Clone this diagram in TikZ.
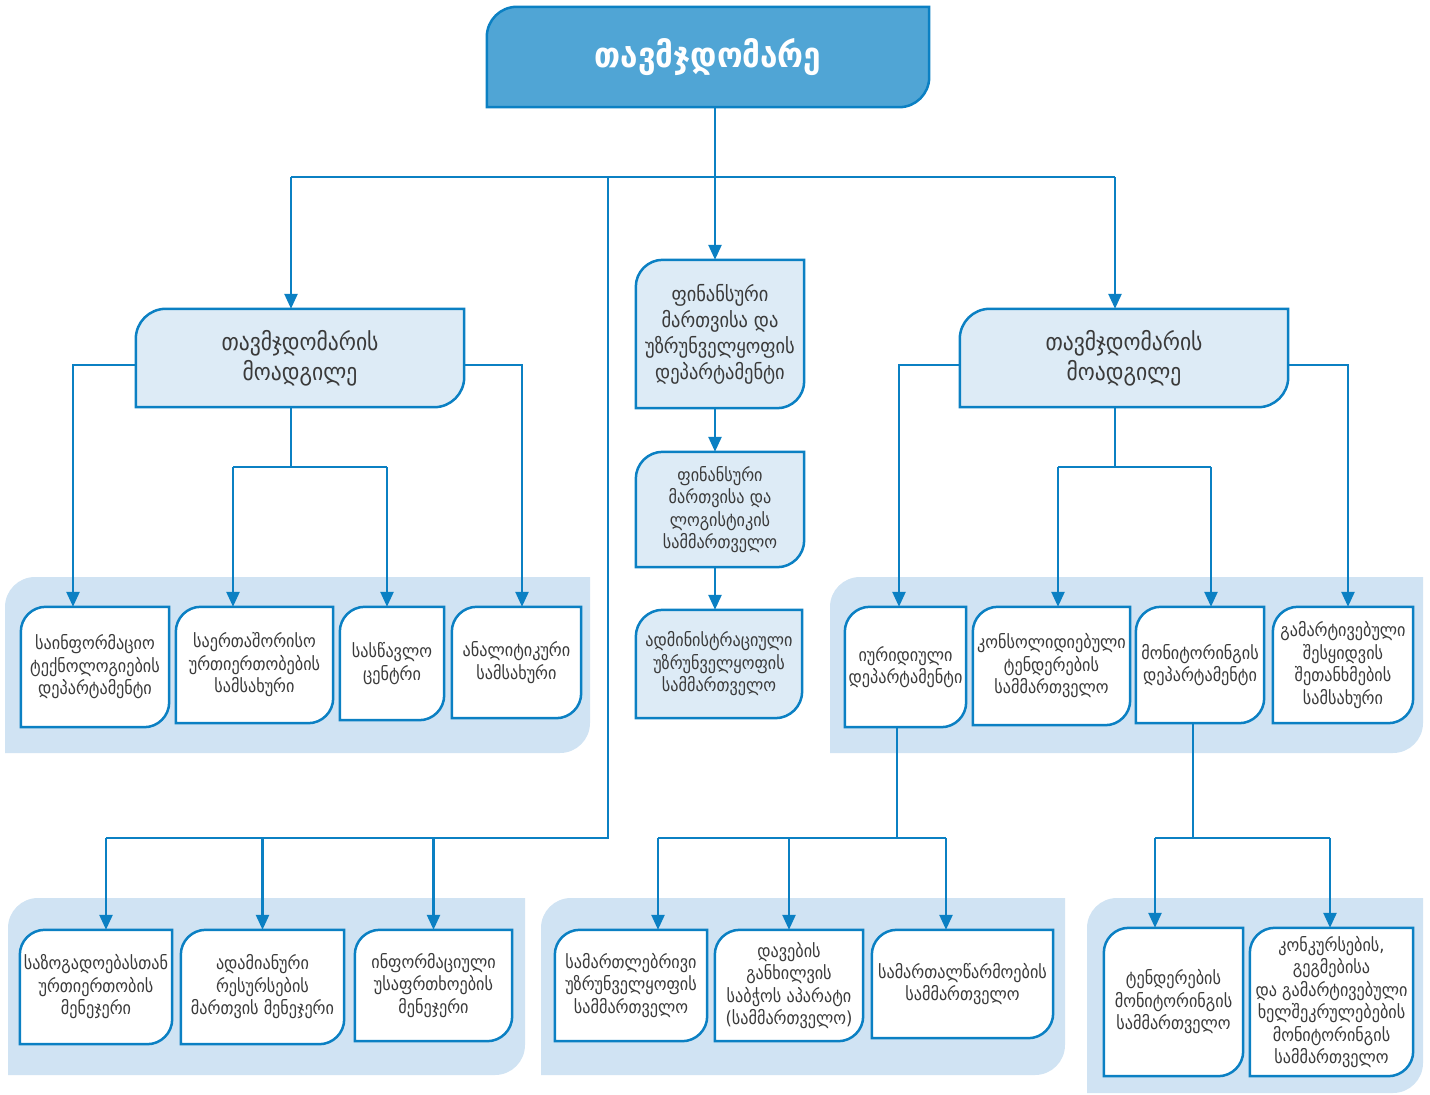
\documentclass[tikz,border=0pt]{standalone}
\usepackage{fontspec}
\newfontfamily\geo{DejaVu Sans Condensed}
\usetikzlibrary{arrows.meta,backgrounds,calc}
\definecolor{bl}{HTML}{0B80C3}
\definecolor{topfill}{HTML}{50A5D5}
\definecolor{lightfill}{HTML}{DDEBF6}
\definecolor{panelc}{HTML}{D0E3F3}
\definecolor{txtc}{HTML}{3A3A3A}
\tikzset{
  txt/.style={inner sep=0pt, align=center, font=\geo\fontsize{18}{22.5}\selectfont, text=txtc},
  bigtxt/.style={txt, font=\geo\fontsize{20.5}{26}\selectfont},
  deptxt/.style={inner sep=0pt, align=center, font=\geo\fontsize{24}{30}\selectfont, text=txtc},
  toptxt/.style={inner sep=0pt, align=center, font=\geo\bfseries\fontsize{35}{40}\selectfont, text=white},
  ln/.style={draw=bl, line width=2.5pt},
  arr/.style={ln, -{Triangle[length=15pt,width=13pt]}},
  bshape/.style={draw=bl, line width=2.5pt},
}
\newcommand{\ogshape}[3]{%
  \draw[bshape, fill=#3] (#1.south west) -- ([yshift=-#2]#1.north west)
    arc[start angle=180,end angle=90,radius=#2] -- (#1.north east)
    -- ([yshift=#2]#1.south east) arc[start angle=0,end angle=-90,radius=#2] -- cycle;}
\newcommand{\ogpanel}[5]{%
  \fill[panelc] (#1,#4) -- (#1,{#2+#5}) arc[start angle=180,end angle=90,radius=#5 pt]
    -- (#3,#2) -- (#3,{#4-#5}) arc[start angle=0,end angle=-90,radius=#5 pt] -- cycle;}
\begin{document}
\begin{tikzpicture}[x=1pt,y=-1pt]
\useasboundingbox (0,0) rectangle (1430,1095);
% nodes
\node[toptxt, minimum width=442pt, minimum height=100pt] (T) at (708,57) {თავმჯდომარე};
\node[deptxt, minimum width=328pt, minimum height=98pt] (D1) at (300,358) {თავმჯდომარის\\მოადგილე};
\node[deptxt, minimum width=328pt, minimum height=98pt] (D2) at (1124,358) {თავმჯდომარის\\მოადგილე};
\node[bigtxt, minimum width=168pt, minimum height=148pt] (M1) at (720,334) {ფინანსური\\მართვისა და\\უზრუნველყოფის\\დეპარტამენტი};
\node[txt, minimum width=168pt, minimum height=115pt] (M2) at (720,509.5) {ფინანსური\\მართვისა და\\ლოგისტიკის\\სამმართველო};
\node[txt, minimum width=166pt, minimum height=108pt] (M3) at (719,664) {ადმინისტრაციული\\უზრუნველყოფის\\სამმართველო};
% left group
\node[txt, minimum width=148pt, minimum height=120pt] (A1) at (95,667) {საინფორმაციო\\ტექნოლოგიების\\დეპარტამენტი};
\node[txt, minimum width=157pt, minimum height=116pt] (A2) at (254.5,665) {საერთაშორისო\\ურთიერთობების\\სამსახური};
\node[txt, minimum width=104pt, minimum height=113pt] (A3) at (392,663.5) {სასწავლო\\ცენტრი};
\node[txt, minimum width=129pt, minimum height=111pt] (A4) at (516.5,662.5) {ანალიტიკური\\სამსახური};
% right group
\node[txt, minimum width=121pt, minimum height=120pt] (R1) at (905.5,667) {იურიდიული\\დეპარტამენტი};
\node[txt, minimum width=157pt, minimum height=118pt] (R2) at (1051.5,666) {კონსოლიდიებული\\ტენდერების\\სამმართველო};
\node[txt, minimum width=128pt, minimum height=116pt] (R3) at (1200,665) {მონიტორინგის\\დეპარტამენტი};
\node[txt, minimum width=140pt, minimum height=116pt] (R4) at (1343,665) {გამარტივებული\\შესყიდვის\\შეთანხმების\\სამსახური};
% bottom left
\node[txt, minimum width=152pt, minimum height=114pt] (B1) at (96,987) {საზოგადოებასთან\\ურთიერთობის\\მენეჯერი};
\node[txt, minimum width=163pt, minimum height=114pt] (B2) at (262.5,987) {ადამიანური\\რესურსების\\მართვის მენეჯერი};
\node[txt, minimum width=157pt, minimum height=111pt] (B3) at (433.5,985.5) {ინფორმაციული\\უსაფრთხოების\\მენეჯერი};
% bottom middle
\node[txt, minimum width=152pt, minimum height=111pt] (B4) at (631,985.5) {სამართლებრივი\\უზრუნველყოფის\\სამმართველო};
\node[txt, minimum width=148pt, minimum height=111pt] (B5) at (789,985.5) {დავების\\განხილვის\\საბჭოს აპარატი\\(სამმართველო)};
\node[txt, minimum width=181pt, minimum height=108pt] (B6) at (962.5,984) {სამართალწარმოების\\სამმართველო};
% bottom right
\node[txt, minimum width=139pt, minimum height=148pt] (B7) at (1173.5,1002) {ტენდერების\\მონიტორინგის\\სამმართველო};
\node[txt, minimum width=163pt, minimum height=148pt] (B8) at (1331.5,1002) {კონკურსების,\\გეგმებისა\\და გამარტივებული\\ხელშეკრულებების\\მონიტორინგის\\სამმართველო};

% backgrounds
\begin{scope}[on background layer]
  \ogpanel{5}{577}{590}{753}{30}
  \ogpanel{830}{577}{1423}{753}{30}
  \ogpanel{8}{898}{525}{1075}{30}
  \ogpanel{541}{898}{1065}{1075}{30}
  \ogpanel{1087}{898}{1423}{1093}{30}
  \ogshape{T}{30pt}{topfill}
  \ogshape{D1}{30pt}{lightfill}
  \ogshape{D2}{30pt}{lightfill}
  \ogshape{M1}{27pt}{lightfill}
  \ogshape{M2}{27pt}{lightfill}
  \ogshape{M3}{27pt}{lightfill}
  \foreach \n in {A1,A2,A3,A4,R1,R2,R3,R4,B1,B2,B3,B4,B5,B6,B7,B8}{\ogshape{\n}{25pt}{white}}
\end{scope}

% connectors
\coordinate (bus) at (715,177);
\coordinate (d1t) at ([xshift=-9pt]D1.north);
\coordinate (d2t) at ([xshift=-9pt]D2.north);
\draw[ln] (d1t |- bus) -- (d2t |- bus);
\draw[arr] (d1t |- bus) -- (d1t);
\draw[arr] (d2t |- bus) -- (d2t);
\draw[arr] ([xshift=7pt]T.south) -- ([xshift=-5pt]M1.north);
\draw[arr] ([xshift=-5pt]M1.south) -- ([xshift=-5pt]M2.north);
\draw[arr] ([xshift=-5pt]M2.south) -- ([xshift=-4pt]M3.north);

% deputy 1
\coordinate (a1t) at ([xshift=-22pt]A1.north);
\coordinate (a2t) at ([xshift=-21.5pt]A2.north);
\coordinate (a3t) at ([xshift=-5pt]A3.north);
\coordinate (a4t) at ([xshift=5.5pt]A4.north);
\coordinate (d1b) at ([xshift=-9pt]D1.south);
\coordinate (d1h) at (291,467);
\draw[arr] ([yshift=-7pt]D1.west) -| (a1t);
\draw[arr] ([yshift=-7pt]D1.east) -| (a4t);
\draw[ln] (d1b) -- (d1h);
\draw[ln] (a2t |- d1h) -- (a3t |- d1h);
\draw[arr] (a2t |- d1h) -- (a2t);
\draw[arr] (a3t |- d1h) -- (a3t);

% deputy 2
\coordinate (r1t) at ([xshift=-6.5pt]R1.north);
\coordinate (r2t) at ([xshift=6.5pt]R2.north);
\coordinate (r3t) at ([xshift=11pt]R3.north);
\coordinate (r4t) at ([xshift=5pt]R4.north);
\coordinate (d2b) at ([xshift=-9pt]D2.south);
\coordinate (d2h) at (1115,467);
\draw[arr] ([yshift=-7pt]D2.west) -| (r1t);
\draw[arr] ([yshift=-7pt]D2.east) -| (r4t);
\draw[ln] (d2b) -- (d2h);
\draw[ln] (r2t |- d2h) -- (r3t |- d2h);
\draw[arr] (r2t |- d2h) -- (r2t);
\draw[arr] (r3t |- d2h) -- (r3t);

% bottom left branch
\coordinate (lb) at (608,177);
\coordinate (lbus) at (608,838);
\coordinate (b1t) at ([xshift=10pt]B1.north);
\coordinate (b2t) at (B2.north);
\coordinate (b3t) at (B3.north);
\draw[ln] (lb) -- (lbus) -- (b1t |- lbus);
\draw[arr] (b1t |- lbus) -- (b1t);
\draw[arr] (b2t |- lbus) -- (b2t);
\draw[arr] (b3t |- lbus) -- (b3t);

% bottom middle branch
\coordinate (r1b) at ([xshift=-8.5pt]R1.south);
\coordinate (mbus) at (897,838);
\coordinate (b4t) at ([xshift=27pt]B4.north);
\coordinate (b5t) at (B5.north);
\coordinate (b6t) at ([xshift=-16.5pt]B6.north);
\draw[ln] (r1b) -- (mbus);
\draw[ln] (b4t |- mbus) -- (b6t |- mbus);
\draw[arr] (b4t |- mbus) -- (b4t);
\draw[arr] (b5t |- mbus) -- (b5t);
\draw[arr] (b6t |- mbus) -- (b6t);

% bottom right branch
\coordinate (r3b) at ([xshift=-7pt]R3.south);
\coordinate (rbus) at (1193,838);
\coordinate (b7t) at ([xshift=-18.5pt]B7.north);
\coordinate (b8t) at ([xshift=-1.5pt]B8.north);
\draw[ln] (r3b) -- (rbus);
\draw[ln] (b7t |- rbus) -- (b8t |- rbus);
\draw[arr] (b7t |- rbus) -- (b7t);
\draw[arr] (b8t |- rbus) -- (b8t);
\end{tikzpicture}
\end{document}
